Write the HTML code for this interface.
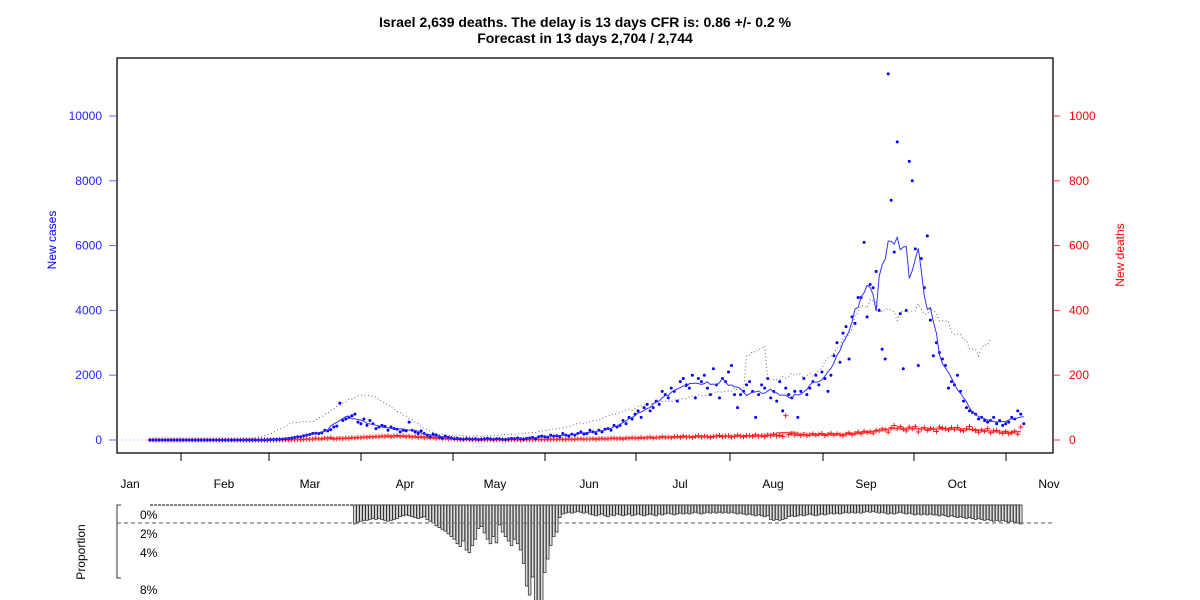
<!DOCTYPE html>
<html><head><meta charset="utf-8"><style>
body{margin:0;background:#fff}
svg{display:block;font-family:"Liberation Sans",Arial,sans-serif}
</style></head><body>
<svg id="c" width="1200" height="600">
<text x="585" y="27" text-anchor="middle" font-size="14" font-weight="bold">Israel 2,639 deaths. The delay is 13 days CFR is: 0.86 +/- 0.2 %</text>
<text x="585" y="43" text-anchor="middle" font-size="14" font-weight="bold">Forecast in 13 days 2,704 / 2,744</text>
<rect x="117" y="58" width="936" height="395" fill="none" stroke="#000" stroke-width="1.3"/>
<text transform="translate(56,240) rotate(-90)" text-anchor="middle" font-size="12" fill="#00f">New cases</text>
<text transform="translate(1124,255) rotate(-90)" text-anchor="middle" font-size="12" fill="#f00">New deaths</text>
<text transform="translate(85,552) rotate(-90)" text-anchor="middle" font-size="12">Proportion</text>
<g id="g"></g>
</svg>
<script>
const leftTicks=[0,2000,4000,6000,8000,10000];
const rightTicks=[0,200,400,600,800,1000];
const months=["Jan","Feb","Mar","Apr","May","Jun","Jul","Aug","Sep","Oct","Nov"];
const propTicks=["0%","2%","4%","8%"];
const cases=[0,0,0,0,0,0,0,0,0,0,0,0,0,0,0,0,0,0,0,0,0,0,0,0,0,0,0,0,0,0,0,0,0,0,0,0,0,0,0,
5,10,15,20,20,30,40,50,60,80,100,100,
130,150,170,200,210,200,220,300,280,320,400,430,
1140,
600,650,700,750,800,550,500,650,450,600,500,350,
400,450,420,300,400,350,330,250,300,280,550,300,250,200,280,
200,150,100,180,150,100,50,120,80,60,40,50,30,20,40,
30,20,40,15,20,30,50,30,20,40,30,20,15,30,50,40,60,40,20,50,60,80,40,100,120,
100,80,150,120,130,100,200,150,120,180,150,200,250,180,200,300,250,200,300,250,330,350,300,450,400,
450,600,500,700,650,800,900,700,1000,1100,900,1000,1200,1100,1500,1400,1300,1600,1500,1200,
1800,1900,1700,1600,2000,1300,1900,1800,2000,1600,1400,2200,1700,1300,1900,1800,2100,2300,1400,1000,
1400,1500,1700,1800,1500,700,1400,1700,1600,1900,1300,1500,1200,1800,900,1600,1400,1300,1500,700,1500,1900,1400,1600,1800,2000,1700,2100,1900,1500,
2000,2600,3000,2400,3300,3500,2500,3800,3600,4400,
4400,6100,3800,4800,4700,5200,4000,2800,2500,11300,7400,5800,9200,3900,2200,4000,8600,8000,5900,2300,5600,4700,6300,3700,2600,
3000,2700,2500,2300,1600,1800,1700,2000,1500,1200,1000,900,850,800,650,700,600,550,600,700,500,600,450,500,550,700,650,900,800,500];
const deaths=[0,0,0,0,0,0,0,0,0,0,0,0,0,0,0,0,0,0,0,0,0,0,0,0,0,0,0,0,0,0,0,0,0,0,0,0,0,0,0,0,0,
0,0,1,0,1,0,1,1,2,1,2,3,2,3,5,4,3,6,5,7,
3,4,5,4,6,5,7,6,8,7,9,8,10,9,11,10,12,11,13,10,12,14,11,13,10,12,9,11,8,10,7,9,6,8,5,7,4,6,3,5,
3,2,1,2,3,1,2,1,0,2,1,1,2,0,1,2,1,0,1,2,1,1,0,2,1,1,2,1,2,1,2,1,2,2,1,3,2,1,3,2,
2,3,4,2,3,3,4,2,4,5,3,4,5,6,4,5,3,6,5,7,6,5,8,6,7,9,6,8,7,10,8,9,7,10,11,8,12,9,10,8,11,13,9,12,10,8,11,12,14,10,
12,13,9,11,15,12,10,14,13,11,16,12,14,10,15,13,17,12,14,11,75,16,20,15,18,14,17,13,16,19,15,18,20,14,17,21,15,19,16,13,
18,22,16,20,25,19,27,23,26,21,30,28,34,32,24,38,45,36,41,33,28,40,35,42,25,34,38,30,36,33,26,40,37,35,31,38,33,39,30,28,35,42,33,29,24,31,27,35,22,28,30,24,20,26,19,22,27,18,40];
const propStart=68;
const proportion=[2.1,1.9,1.8,1.7,1.7,1.6,1.5,1.6,1.5,1.6,1.7,1.8,1.7,
1.6,1.5,1.3,1.2,1.1,1.2,1.3,1.4,1.5,1.4,1.3,1.6,1.8,2.0,2.3,
2.5,2.7,2.9,3.2,3.5,3.8,4.3,4.6,4.0,5.0,5.3,4.5,3.8,2.6,2.4,3.1,3.8,4.3,3.5,4.2,
2.2,3.0,3.5,4.0,4.5,3.8,4.3,5.0,6.5,9.0,10.0,
8.0,11,11,11,7.5,6.0,4.5,3.5,3.0,
1.4,1.0,0.9,0.8,0.9,0.8,0.7,0.8,0.9,0.8,
1.0,1.1,1.2,1.1,1.0,1.2,1.3,1.1,1.2,1.0,1.1,1.2,1.1,1.0,1.2,1.1,1.0,1.1,1.2,1.1,1.0,1.1,1.2,1.0,1.1,1.0,0.9,1.0,1.1,1.0,0.9,1.0,0.9,1.0,0.9,0.8,0.9,1.0,0.9,0.8,0.9,0.8,0.9,0.8,0.9,
0.8,0.9,0.8,0.9,1.0,0.9,1.0,1.1,1.0,1.1,1.2,1.1,1.2,1.3,1.2,
1.6,1.7,1.6,1.7,1.6,1.5,1.3,1.2,1.3,1.2,
1.1,1.2,1.1,1.0,1.1,1.2,1.1,1.0,1.1,1.0,0.9,1.0,0.9,1.0,0.9,0.8,0.9,0.8,0.9,0.8,0.9,0.8,0.7,0.8,0.7,0.8,0.9,0.8,0.9,1.0,0.9,1.0,0.9,0.8,0.9,1.0,0.9,1.0,1.1,1.0,1.1,1.0,1.1,1.0,1.1,
1.1,1.2,1.1,1.2,1.3,1.2,1.3,1.4,1.3,1.4,1.5,1.4,1.5,1.6,1.5,1.6,1.7,1.6,1.7,1.8,1.7,1.8,1.7,1.8,1.9,1.8,1.9,2.0,2.1];
const CFR=0.0086, SHIFT=10;

const NS="http://www.w3.org/2000/svg", g=document.getElementById('g');
const X=d=>150+3.013*d, Y=v=>440-v*0.0324, YD=v=>440-v*0.324, YP=p=>505+p*9;
function mk(t,a){const e=document.createElementNS(NS,t);for(const k in a)e.setAttribute(k,a[k]);g.appendChild(e);return e;}
function sm(arr,w){return arr.map((_,i)=>{let s=0,n=0;for(let j=i-w;j<=i+w;j++)if(j>=0&&j<arr.length){s+=arr[j];n++;}return s/n;});}
const sc=sm(cases,3), sd=sm(deaths,3), sd2=sm(deaths,7);

leftTicks.forEach(v=>{
 let l=mk('line',{x1:109,y1:Y(v),x2:116,y2:Y(v),stroke:'#66f'});
 
 let t=mk('text',{x:102,y:Y(v)+4,'text-anchor':'end','font-size':12,fill:'#22f'});t.textContent=v;
 
});
let e;
rightTicks.forEach(v=>{
 let l=mk('line',{x1:1053,y1:YD(v),x2:1060,y2:YD(v),stroke:'#f33'});
 
 let t=mk('text',{x:1069,y:YD(v)+4,'font-size':12,fill:'#f00'});t.textContent=v;
 
});
[181,269,361,453,545,636,730,823,914,1006].forEach(x=>{
 let l=mk('line',{x1:x,y1:453,x2:x,y2:461,stroke:'#000'});
 
});
const mx=[130,224,310,405,495,589,680,773,866,957,1049];
months.forEach((m,i)=>{let t=mk('text',{x:mx[i],y:488,'text-anchor':'middle','font-size':12});t.textContent=m;
 });
e=mk('line',{x1:117,y1:440,x2:150,y2:440,stroke:'#88f','stroke-dasharray':'1 3'});


let pts=[];for(let t=30;t<cases.length-SHIFT;t++)pts.push(X(t)+','+Y(sd[t+SHIFT]/CFR).toFixed(1));
e=mk('polyline',{points:pts.join(' '),fill:'none',stroke:'#668','stroke-width':1,'stroke-dasharray':'1 2.5'});

e=mk('polyline',{points:sd2.map((v,i)=>X(i)+','+YD(v).toFixed(1)).join(' '),fill:'none',stroke:'rgba(255,90,90,0.35)','stroke-width':3});

deaths.forEach((v,i)=>{let p=mk('path',{d:`M${X(i)-2.5},${YD(v)}h5M${X(i)},${YD(v)-2.5}v5`,stroke:'#f00','stroke-width':0.9});
 });
e=mk('polyline',{points:sd.map((v,i)=>X(i)+','+YD(v).toFixed(1)).join(' '),fill:'none',stroke:'#f33','stroke-width':1});

cases.forEach((v,i)=>{let c=mk('circle',{cx:X(i),cy:Y(v),r:1.5,fill:'#00f'});
 });
e=mk('polyline',{points:sc.map((v,i)=>X(i)+','+Y(v).toFixed(1)).join(' '),fill:'none',stroke:'#33f','stroke-width':1});


// bottom proportion panel
e=mk('line',{x1:150,y1:505,x2:1020,y2:505,stroke:'#000','stroke-dasharray':'3 1'});

e=mk('path',{d:'M121,505H117V578H121',fill:'none',stroke:'#000','stroke-width':0.8});

[515,534,553,590].forEach((y,i)=>{let t=mk('text',{x:140,y:y+4,'font-size':12});t.textContent=propTicks[i];
 });
proportion.forEach((p,i)=>{
 const d=propStart+i;
 let r=mk('rect',{x:X(d)-1.3,y:505,width:2.6,height:YP(p)-505,fill:'#ddd',stroke:'#333','stroke-width':0.8});
 
});
e=mk('line',{x1:117,y1:523,x2:1053,y2:523,stroke:'#777','stroke-dasharray':'4 3','stroke-width':1.3});

</script>
</body></html>
